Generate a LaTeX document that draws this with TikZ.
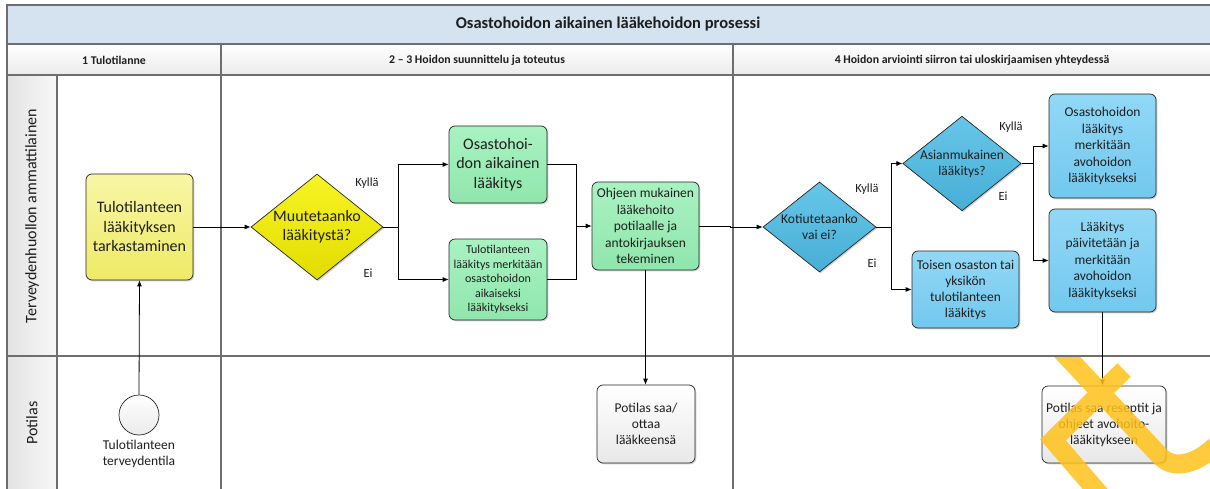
\documentclass[tikz,border=0pt]{standalone}
\usepackage{fontspec}
\setmainfont{Carlito}
\usetikzlibrary{arrows.meta,shapes.geometric,shadows,calc,positioning}

\definecolor{poolline}{HTML}{6E6E6E}
\definecolor{titlefill}{HTML}{D5E3F0}
\definecolor{ink}{HTML}{1E1E1E}
\definecolor{ytop}{HTML}{F8F6A6}
\definecolor{ybot}{HTML}{EEEA66}
\definecolor{ydtop}{HTML}{F7F425}
\definecolor{ydbot}{HTML}{E2DC00}
\definecolor{gtop}{HTML}{A9F2C2}
\definecolor{gbot}{HTML}{8FE6AC}
\definecolor{btop}{HTML}{92D8F6}
\definecolor{bbot}{HTML}{72C8EE}
\definecolor{bdtop}{HTML}{66C6E8}
\definecolor{bdbot}{HTML}{48AED6}
\definecolor{emblem}{HTML}{FFC21A}

\tikzset{
  pool/.style={draw=poolline, line width=1.1pt},
  shadowed/.style={drop shadow={shadow xshift=1.3pt, shadow yshift=-1.3pt, opacity=0.3, fill=black!60}},
  task/.style={rectangle, rounded corners=6pt, draw=black!85, line width=0.7pt,
    align=center, inner sep=1pt, text=ink, shadowed},
  ytask/.style={task, top color=ytop, bottom color=ybot},
  gtask/.style={task, top color=gtop, bottom color=gbot},
  btask/.style={task, top color=btop, bottom color=bbot},
  wtask/.style={task, top color=white, bottom color=black!9},
  gate/.style={diamond, aspect=1.25, draw=black!85, line width=0.7pt, inner sep=0pt,
    align=center, text=ink, shadowed},
  ygate/.style={gate, top color=ydtop, bottom color=ydbot},
  bgate/.style={gate, top color=bdtop, bottom color=bdbot},
  flow/.style={draw=black, line width=0.8pt},
  arr/.style={flow, -{Latex[length=6pt,width=5pt]}},
  lbl/.style={text=ink, align=center, inner sep=0pt},
  fs/.style n args={2}{font=\fontsize{#1}{#2}\selectfont},
  fsb/.style n args={2}{font=\fontsize{#1}{#2}\selectfont\bfseries},
}

\begin{document}
\begin{tikzpicture}[x=1pt,y=-1pt]
\useasboundingbox (0,0) rectangle (1210,489);
\fill[white] (0,0) rectangle (1210,489);

% pool background: title band, phase header row, lane label column
\fill[titlefill] (7,5) rectangle (1210,44);
\shade[top color=white, bottom color=black!8] (7,44) rectangle (1210,75);
\shade[left color=black!11, right color=black!3] (7,75) rectangle (57,489);

% pool grid
\draw[pool] (7,489) -- (7,5) -- (1210,5);
\draw[pool] (7,44) -- (1210,44);
\draw[pool] (7,75) -- (1210,75);
\draw[pool] (7,356) -- (1210,356);
\draw[pool] (57,75) -- (57,489);
\draw[pool] (221,44) -- (221,489);
\draw[pool] (733,44) -- (733,489);

% titles
\node[lbl, fsb={16.5}{19}] (title) at (608,24) {Osastohoidon aikainen lääkehoidon prosessi};
\node[lbl, fsb={11.8}{13}] (ph1) at (114,60) {1 Tulotilanne};
\node[lbl, fsb={11.8}{13}] (ph2) at (477,60) {2 – 3 Hoidon suunnittelu ja toteutus};
\node[lbl, fsb={11.8}{13}] (ph4) at (972,60) {4 Hoidon arviointi siirron tai uloskirjaamisen yhteydessä};
\node[lbl, fs={16}{19}, rotate=90] (lane1) at (32,216) {Terveydenhuollon ammattilainen};
\node[lbl, fs={16}{19}, rotate=90] (lane2) at (32,423) {Potilas};

% lane 1: professional
\node[ytask, fs={16}{19.5}, minimum width=107pt, minimum height=106pt] (check) at (139.5,227)
  {Tulotilanteen\\lääkityksen\\tarkastaminen};
\node[ygate, fs={16}{19}, minimum width=132pt, minimum height=106pt] (change) at (317,227)
  {Muutetaanko\\lääkitystä?};
\node[gtask, fs={16}{19.5}, minimum width=98pt, minimum height=77pt] (ward) at (498,164.5)
  {Osastohoi-\\don aikainen\\lääkitys};
\node[gtask, fs={12}{14.6}, minimum width=98pt, minimum height=81pt] (mark) at (498,279.5)
  {Tulotilanteen\\lääkitys merkitään\\osastohoidon\\aikaiseksi\\lääkitykseksi};
\node[gtask, fs={13.5}{16.4}, minimum width=107pt, minimum height=88pt] (give) at (645.5,226)
  {Ohjeen mukainen\\lääkehoito\\potilaalle ja\\antokirjauksen\\tekeminen};
\node[bgate, fs={13.5}{16}, minimum width=113pt, minimum height=90pt] (home) at (819.5,227)
  {Kotiutetaanko\\vai ei?};
\node[bgate, fs={13.5}{16}, minimum width=112pt, minimum height=91pt] (ok) at (962,163.5)
  {Asianmukainen\\lääkitys?};
\node[btask, fs={13.5}{16}, minimum width=107pt, minimum height=77pt] (other) at (965.5,289.5)
  {Toisen osaston tai\\yksikön\\tulotilanteen\\lääkitys};
\node[btask, fs={13.5}{16.5}, minimum width=107pt, minimum height=104pt] (outA) at (1102.5,146)
  {Osastohoidon\\lääkitys\\merkitään\\avohoidon\\lääkitykseksi};
\node[btask, fs={13.5}{16.5}, minimum width=107pt, minimum height=103pt] (outB) at (1102.5,260.5)
  {Lääkitys\\päivitetään ja\\merkitään\\avohoidon\\lääkitykseksi};

% lane 2: patient
\node[circle, draw=black!85, line width=0.7pt, minimum size=40pt, inner sep=0pt,
  top color=white, bottom color=black!8] (start) at (139,415) {};
\node[lbl, fs={13.5}{15.5}, anchor=north] (startlbl) at (139,440) {Tulotilanteen\\terveydentila};
\node[wtask, fs={13.5}{16}, minimum width=98pt, minimum height=78pt] (takes) at (646,424)
  {Potilas saa/\\ottaa\\lääkkeensä};
\node[wtask, fs={13.5}{16}, minimum width=124pt, minimum height=77pt] (gets) at (1104,424.5)
  {Potilas saa reseptit ja\\ohjeet avohoito-\\lääkitykseen};

% branch points
\coordinate (s1) at (398,227);
\coordinate (m1) at (576,226);
\coordinate (s2) at (891,227);
\coordinate (s3) at (1033,163.5);

% sequence flows
\draw[arr] (start.north) -- (check.south);
\draw[arr] (check.east) -- (change.west);
\draw[flow] (change.east) -- (s1);
\draw[arr] (s1) |- (ward.west);
\draw[arr] (s1) |- (mark.west);
\draw[flow] (ward.east) -| (m1);
\draw[flow] (mark.east) -| (m1);
\draw[arr] (m1) -- (give.west);
\draw[arr] (give.east) -- ++(31,0) |- (home.west);
\draw[arr] (give.south) -- (give.south |- takes.north);
\draw[flow] (home.east) -- (s2);
\draw[arr] (s2) |- (ok.west);
\draw[arr] (s2) |- (other.west);
\draw[flow] (ok.east) -- (s3);
\draw[arr] (s3) |- (outA.west);
\draw[arr] (s3) |- (outB.west);
\draw[arr] (outB.south) -- (outB.south |- gets.north);

% gateway answers
\node[lbl, fs={12.5}{14}] (y1) at (367,183) {Kyllä};
\node[lbl, fs={12.5}{14}] (n1) at (368,273) {Ei};
\node[lbl, fs={12.5}{14}] (y2) at (867,189) {Kyllä};
\node[lbl, fs={12.5}{14}] (n2) at (872,263) {Ei};
\node[lbl, fs={12.5}{14}] (y3) at (1011,127) {Kyllä};
\node[lbl, fs={12.5}{14}] (n3) at (1003,196) {Ei};

% corner emblem, kept below the lane divider
\begin{scope}
  \clip (733,357.5) rectangle (1210,489);
  \begin{scope}[transparency group, opacity=0.85]
    \draw[emblem, line width=19pt, line cap=butt]
      (1056,345) -- (1160,456) to[out=-47,in=225] (1215,446);
    \draw[emblem, line width=19pt, line cap=butt, line join=miter]
      (1124,370) -- (1053,440) -- (1102,497);
  \end{scope}
\end{scope}
\end{tikzpicture}
\end{document}
